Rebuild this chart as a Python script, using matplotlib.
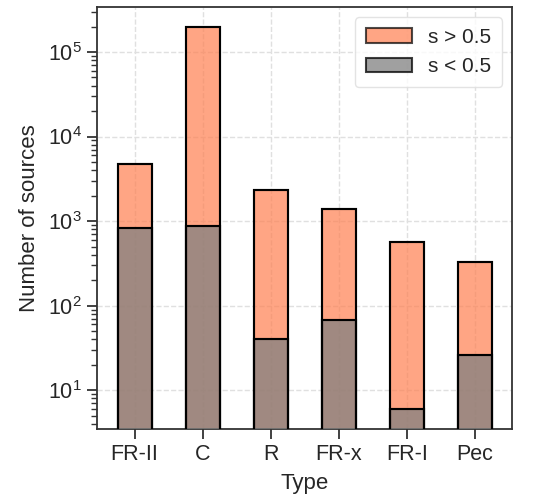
import matplotlib
matplotlib.use("Agg")
import matplotlib.pyplot as plt
import seaborn as sns
import numpy as np

# Source counts per morphological type
types = ['FR-II', 'C', 'R', 'FR-x', 'FR-I', 'Pec']
n_high = [4740, 199000, 2320, 1405, 560, 331]   # s > 0.5 (total bar)
n_low = [820, 880, 40, 68, 6, 26]               # s < 0.5

sns.set_style('ticks')
plt.rcParams['font.family'] = ['Liberation Sans', 'DejaVu Sans']


def main():
    fig, ax = plt.subplots(figsize=(5.46, 5.01), dpi=100)
    fig.subplots_adjust(left=0.178, right=0.938, top=0.986, bottom=0.144)

    x = np.arange(len(types))
    ax.bar(x, n_high, width=0.5, color='coral', alpha=0.7, edgecolor='black',
           linewidth=1.5, label='s > 0.5', zorder=2)
    ax.bar(x, n_low, width=0.5, color='gray', alpha=0.75, edgecolor='black',
           linewidth=1.5, label='s < 0.5', zorder=3)
    # outline again so edges stay fully black
    ax.bar(x, n_high, width=0.5, fill=False, edgecolor='black', linewidth=1.5, zorder=4)
    ax.bar(x, n_low, width=0.5, fill=False, edgecolor='black', linewidth=1.5, zorder=4)

    ax.set_yscale('log')
    ax.set_ylim(3.5, 3.4e5)
    ax.set_xlim(-0.55, 5.55)
    ax.set_xticks(x)
    ax.set_xticklabels(types, fontsize=15.5)
    ax.tick_params(axis='y', labelsize=15.5)
    ax.tick_params(axis='both', which='major', length=7, width=1.3, color='#333333', pad=4)
    ax.tick_params(axis='y', which='minor', length=4, width=1.0, color='#333333')
    ax.set_xlabel('Type', fontsize=16, labelpad=6)
    ax.set_ylabel('Number of sources', fontsize=16, labelpad=6)
    ax.grid(True, linestyle='--', color='#e0e0e0', linewidth=1.0, zorder=0)
    ax.set_axisbelow(True)
    for sp in ax.spines.values():
        sp.set_color('#333333')
        sp.set_linewidth(1.3)

    leg = ax.legend(loc='upper right', fontsize=15, frameon=True,
                    handlelength=2.2, borderpad=0.5)
    leg.get_frame().set_edgecolor('#dddddd')

    plt.savefig('out.png', dpi=100)
    plt.close()


if __name__ == "__main__":
    main()
